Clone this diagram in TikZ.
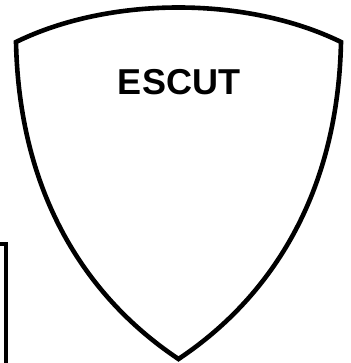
\documentclass[tikz,border=0pt]{standalone}
\usepackage{fontspec}
\setmainfont{Liberation Sans}
\begin{document}
\begin{tikzpicture}[x=1pt,y=-1pt,
  outline/.style={line width=4.6pt,line join=miter,draw=black},
  label/.style={font=\bfseries\fontsize{36}{36}\selectfont,inner sep=0pt}]
\useasboundingbox (0,0) rectangle (350,363);
% shield
\coordinate (tl) at (16,42);
\coordinate (tr) at (341,42);
\coordinate (bt) at (178.5,359);
\draw[outline,fill=white] (tl) .. controls (110,-4) and (247,-4) .. (tr)
  .. controls (337,230) and (237,320) .. (bt)
  .. controls (120,320) and (20,230) .. cycle;
% partial frame on the left
\coordinate (fa) at (-2,244);
\coordinate (fb) at (6,244);
\coordinate (fc) at (6,366);
\draw[outline] (fa) -- (fb) -- (fc);
\node[label] (title) at (179,82) {ESCUT};
\end{tikzpicture}
\end{document}
